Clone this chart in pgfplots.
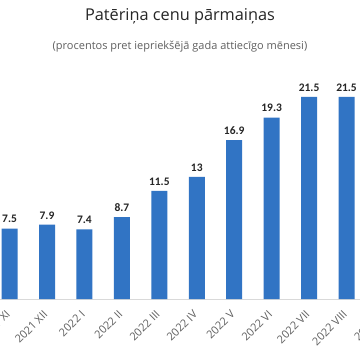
\documentclass[border=0pt]{standalone}
\usepackage{pgfplots}
\pgfplotsset{compat=1.18}
\usepackage{fontspec}
\setmainfont{Open Sans}
\newfontfamily\lblfont{Carlito}
\definecolor{barblue}{RGB}{49,116,196}
\definecolor{gridgray}{RGB}{217,217,217}
\definecolor{ticgray}{RGB}{96,96,96}
\definecolor{txtdark}{RGB}{38,38,38}
\begin{document}
\begin{tikzpicture}
\useasboundingbox (0pt,0pt) rectangle (360pt,360pt);
\clip (0pt,0pt) rectangle (360pt,360pt);
\fill[white] (0pt,0pt) rectangle (360pt,360pt);
\node[text=txtdark, font=\fontsize{16.3}{16}\selectfont] at (180pt,344pt) {Patēriņa cenu pārmaiņas};
\node[text=ticgray, font=\fontsize{11}{11}\selectfont] at (180pt,313pt) {(procentos pret iepriekšējā gada attiecīgo mēnesi)};
\begin{axis}[
  at={(-46.6pt,61pt)}, anchor=south west,
  scale only axis, width=449.3pt, height=235pt,
  xmin=-0.5, xmax=11.5, ymin=0, ymax=25,
  axis x line*=bottom, axis y line=none,
  x axis line style={draw=gridgray, line width=0.8pt},
  ytick={0,5,10,15,20,25}, yticklabels={},
  ymajorgrids, grid style={draw=gridgray, line width=0.8pt},
  major tick length=0pt,
  xtick={0,...,11},
  xticklabels={2021 X,2021 XI,2021 XII,2022 I,2022 II,2022 III,2022 IV,2022 V,2022 VI,2022 VII,2022 VIII,2022 IX},
  xticklabel style={xshift=1pt, yshift=-11pt, rotate=45, anchor=east, text=ticgray, font=\fontsize{11}{11}\selectfont},
  ybar, bar width=16pt,
  nodes near coords,
  /pgf/number format/assume math mode=true,
  nodes near coords style={yshift=2pt, text=txtdark, font=\lblfont\bfseries\fontsize{11.5}{11.5}\selectfont},
]
\addplot[fill=barblue, draw=none] coordinates {
(0,6.0) (1,7.5) (2,7.9) (3,7.4) (4,8.7) (5,11.5) (6,13) (7,16.9) (8,19.3) (9,21.5) (10,21.5) (11,22.4)};
\end{axis}
\end{tikzpicture}
\end{document}
